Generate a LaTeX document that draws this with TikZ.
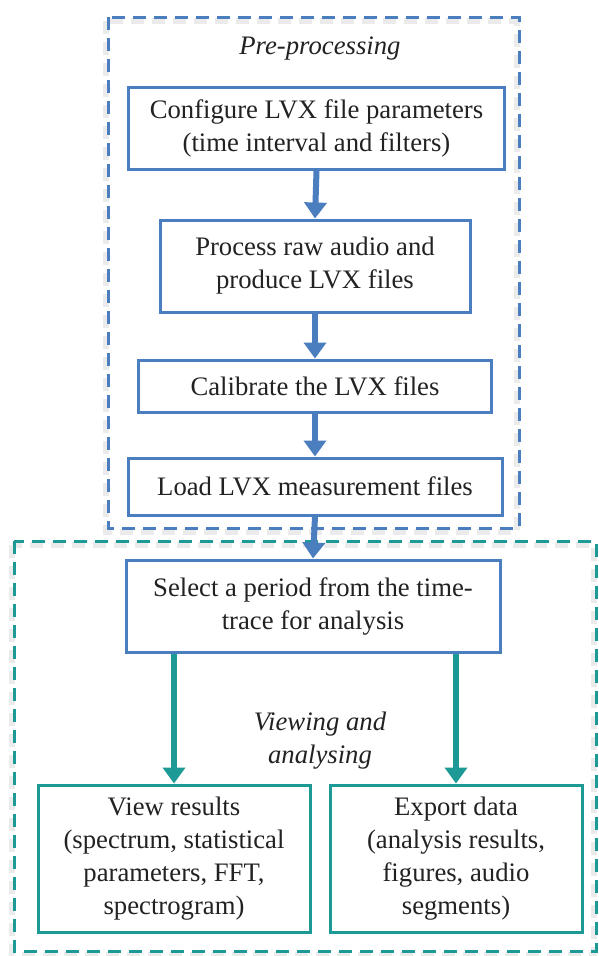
\documentclass[tikz,border=0pt]{standalone}
\usepackage{fontspec}
\setmainfont{Liberation Serif}
\usetikzlibrary{arrows.meta,positioning}
\definecolor{bl}{HTML}{4A7EBF}
\definecolor{tl}{HTML}{1E9A96}
\definecolor{tx}{HTML}{222222}
\begin{document}
\begin{tikzpicture}[x=1pt,y=-1pt,
  every node/.style={text=tx,font=\fontsize{26.7}{33}\selectfont},
  bbox/.style={draw=bl,line width=3pt,inner sep=0pt,align=center},
  tbox/.style={draw=tl,line width=3pt,inner sep=0pt,align=center},
  grp/.style={dash pattern=on 13pt off 8pt,line width=3pt},
  shd/.style={dash pattern=on 13pt off 8pt,line width=6pt,draw=black!30,opacity=0.25},
  barr/.style={draw=bl,line width=6pt,-{Triangle[length=16pt,width=22pt]}},
  tarr/.style={draw=tl,line width=6pt,-{Triangle[length=16pt,width=22pt]}},
  lab/.style={font=\itshape\fontsize{26.7}{33}\selectfont,align=center}]
\useasboundingbox (0,0) rectangle (599,956);
\fill[white] (0,0) rectangle (599,956);
% group boxes
\draw[shd] (106,21) rectangle (517,532);
\draw[shd] (12,545) rectangle (594,955);
\draw[grp,draw=bl] (108,17) rectangle (519,528);
\draw[grp,draw=tl] (14,541) rectangle (596,951);
\node[lab] (pre) at (320,49) {Pre-processing};
\node[lab] (view) at (320,741) {Viewing and\\analysing};
% nodes
\node[bbox,minimum width=376pt,minimum height=82pt] (b1) at (316.5,128.5) {Configure LVX file parameters\\(time interval and filters)};
\node[bbox,minimum width=310pt,minimum height=92pt] (b2) at (315,266) {Process raw audio and\\produce LVX files};
\node[bbox,minimum width=353pt,minimum height=52pt] (b3) at (315,386) {Calibrate the LVX files};
\node[bbox,minimum width=374pt,minimum height=57pt] (b4) at (315,486.5) {Load LVX measurement files};
\node[bbox,minimum width=374pt,minimum height=92pt] (b5) at (313,606) {Select a period from the time-\\trace for analysis};
\node[tbox,minimum width=272pt,minimum height=147pt] (b6) at (174,858.5) {View results\\(spectrum, statistical\\parameters, FFT,\\spectrogram)};
\node[tbox,minimum width=252pt,minimum height=147pt] (b7) at (456,858.5) {Export data\\(analysis results,\\figures, audio\\segments)};
% arrows
\draw[barr] (b1.south) -- (b2.north);
\draw[barr] (b2.south) -- (b3.north);
\draw[barr] (b3.south) -- (b4.north);
\draw[barr] (b4.south) -- (b5.north);
\draw[tarr] (b5.south -| b6.north) -- (b6.north);
\draw[tarr] (b5.south -| b7.north) -- (b7.north);
\end{tikzpicture}
\end{document}
